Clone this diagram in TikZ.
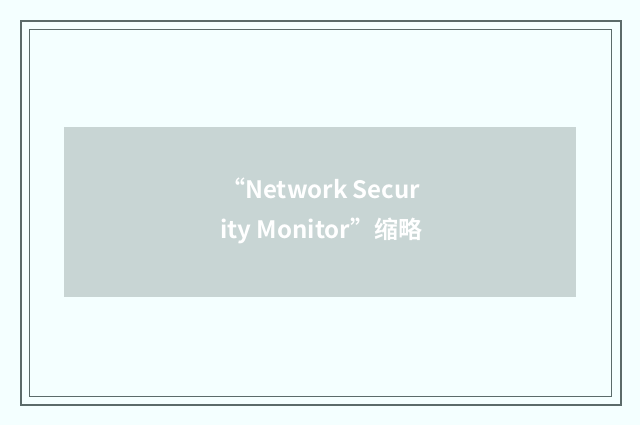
\documentclass[tikz,border=0pt]{standalone}
\usepackage{fontspec}
\newfontfamily\cjk{Noto Sans CJK SC}[BoldFont={Noto Sans CJK SC Bold}]
\definecolor{pagebg}{HTML}{F4FFFF}
\definecolor{framecol}{HTML}{5B6B6A}
\definecolor{boxcol}{HTML}{C8D5D4}
\usetikzlibrary{positioning}

\begin{document}
\begin{tikzpicture}[x=0.75pt,y=-0.75pt,
            frame/.style={draw=framecol},
            caption/.style={text=white,font=\cjk\bfseries\fontsize{18}{22}\selectfont,inner sep=0pt,anchor=base west}]
            \useasboundingbox[fill=pagebg] (0,0) rectangle (640,425);
            % double frame
            \draw[frame,line width=1.5pt] (21,21) rectangle (621,405);
            \draw[frame,line width=0.75pt] (29.5,29.5) rectangle (611,396);
            % grey panel
            \fill[boxcol] (64,127) rectangle (576,297);
            \node[caption] (line1) at (221,198) {“Network Secur};
            \node[caption] (line2) at (220,238) {ity Monitor”缩略};
\end{tikzpicture}
\end{document}
